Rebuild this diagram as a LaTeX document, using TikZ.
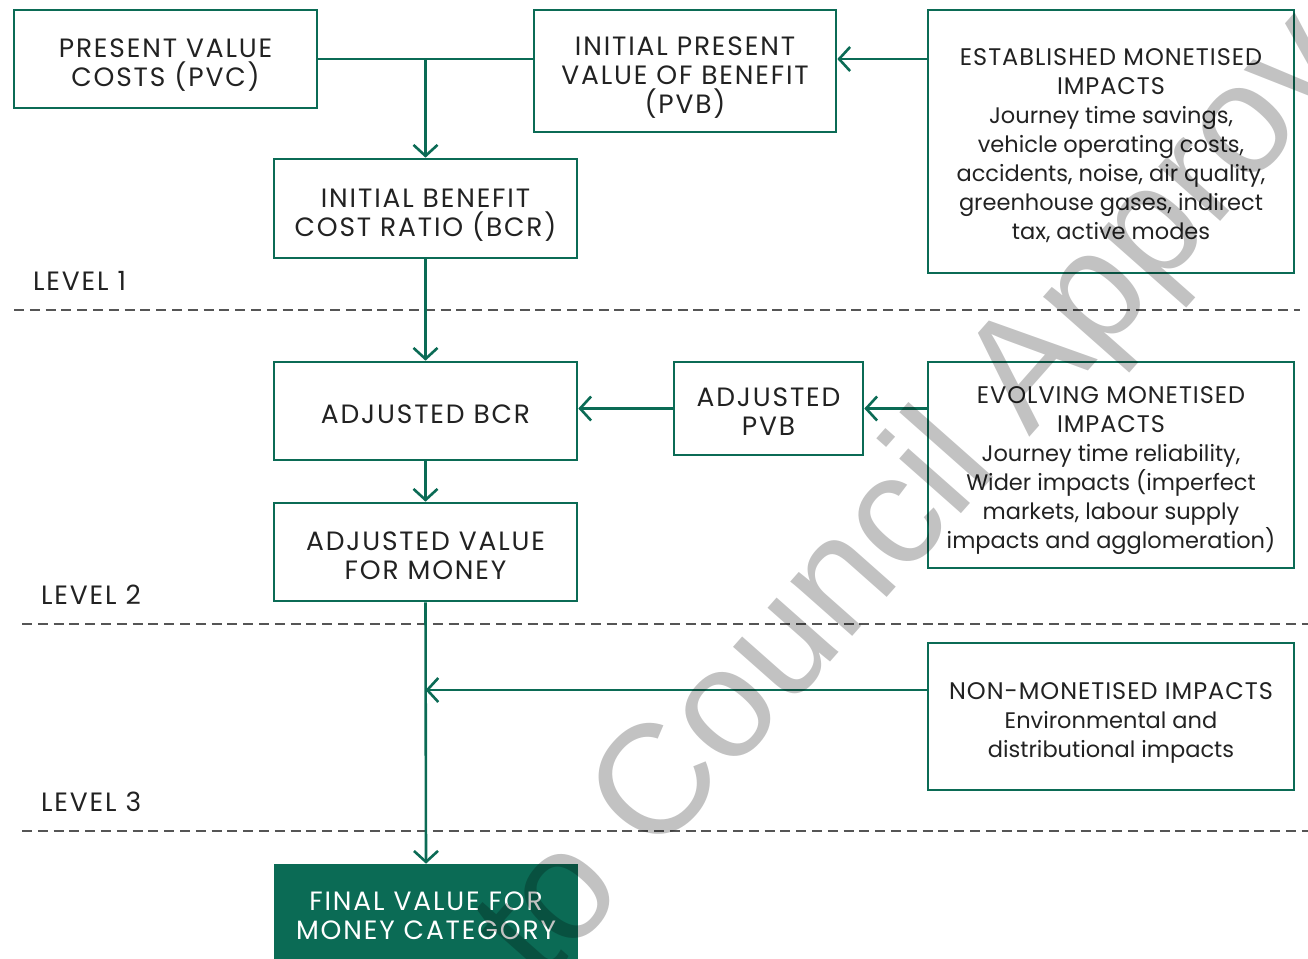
\documentclass[tikz,border=0pt]{standalone}
\usepackage{fontspec}
\setmainfont{Poppins}
\newfontfamily\titlefont{Poppins}[LetterSpace=7]
\newfontfamily\headfont{Poppins}[LetterSpace=4]
\newfontfamily\wmfont{Liberation Sans}
\newcommand\TitleF{\titlefont\fontsize{26.5}{29}\selectfont}
\newcommand\HeadF{\headfont\fontsize{24}{29}\selectfont}
\newcommand\BodyF{\normalfont\fontsize{22.5}{29}\selectfont}
\usetikzlibrary{arrows.meta}
\definecolor{G}{HTML}{0B6B55}
\definecolor{txt}{HTML}{222222}
\definecolor{dashgray}{HTML}{555555}
\begin{document}
\begin{tikzpicture}[x=1pt,y=-1pt,
  box/.style={draw=G, line width=2.6pt, inner sep=0pt},
  finalbox/.style={box, fill=G},
  boxtext/.style={align=center, text=txt, inner sep=0pt, font=\TitleF},
  infotext/.style={align=center, text=txt, inner sep=0pt, font=\BodyF},
  arr/.style={draw=G, line width=2.6pt, -{Straight Barb[length=11pt,width=24pt]}},
  link/.style={draw=G, line width=2.6pt},
  levelline/.style={draw=dashgray, line width=2.8pt, dash pattern=on 10pt off 5.8pt},
  levellabel/.style={anchor=base west, text=txt, inner sep=0pt, font=\TitleF},
  watermark/.style={rotate=48.5, anchor=base west, inner sep=0pt, text=black, opacity=0.24,
    font=\wmfont\fontsize{156}{156}\selectfont}]
\useasboundingbox (0,0) rectangle (1308,958);

% boxes
\node[box, minimum width=303, minimum height=98] (pvc) at (165.5,59) {};
\node[box, minimum width=302, minimum height=122] (ipvb) at (685,71) {};
\node[box, minimum width=366, minimum height=263] (est) at (1111,141.5) {};
\node[box, minimum width=303, minimum height=99] (ibcr) at (425.5,208.5) {};
\node[box, minimum width=303, minimum height=98] (abcr) at (425.5,411) {};
\node[box, minimum width=189, minimum height=93] (apvb) at (768.5,408.5) {};
\node[box, minimum width=366, minimum height=206] (evo) at (1111,465) {};
\node[box, minimum width=303, minimum height=98] (avfm) at (425.5,552) {};
\node[box, minimum width=366, minimum height=147] (nonm) at (1111,716.5) {};
\node[finalbox, minimum width=302, minimum height=98] (final) at (426,914) {};

% box texts
\node[boxtext] (pvc-t) at ([yshift=-6pt]pvc.center) {PRESENT VALUE\\COSTS (PVC)};
\node[boxtext] (ipvb-t) at ([yshift=-6.5pt]ipvb.center) {INITIAL PRESENT\\VALUE OF BENEFIT\\(PVB)};
\node[infotext] (est-t) at ([yshift=-4pt]est.center) {\HeadF ESTABLISHED MONETISED\\\HeadF IMPACTS\\Journey time savings,\\vehicle operating costs,\\accidents, noise, air quality,\\greenhouse gases, indirect\\tax, active modes};
\node[boxtext] (ibcr-t) at ([yshift=-6.5pt]ibcr.center) {INITIAL BENEFIT\\COST RATIO (BCR)};
\node[boxtext] (abcr-t) at ([yshift=-3pt]abcr.center) {ADJUSTED BCR};
\node[boxtext] (apvb-t) at ([yshift=-3pt]apvb.center) {ADJUSTED\\PVB};
\node[infotext] (evo-t) at ([yshift=-6pt]evo.center) {\HeadF EVOLVING MONETISED\\\HeadF IMPACTS\\Journey time reliability,\\Wider impacts (imperfect\\markets, labour supply\\impacts and agglomeration)};
\node[boxtext] (avfm-t) at ([yshift=-4pt]avfm.center) {ADJUSTED VALUE\\FOR MONEY};
\node[infotext] (nonm-t) at ([yshift=-6pt]nonm.center) {\HeadF NON-MONETISED IMPACTS\\Environmental and\\distributional impacts};
\node[boxtext, text=white] (final-t) at ([yshift=-2pt]final.center) {FINAL VALUE FOR\\MONEY CATEGORY};

% level separators
\coordinate (l1a) at (14,310);  \coordinate (l1b) at (1300,310);
\coordinate (l2a) at (22,624);  \coordinate (l2b) at (1308,624);
\coordinate (l3a) at (22,831);  \coordinate (l3b) at (1308,831);
\draw[levelline] (l1a) -- (l1b);
\draw[levelline] (l2a) -- (l2b);
\draw[levelline] (l3a) -- (l3b);
\node[levellabel] (lev1) at (33,290) {LEVEL 1};
\node[levellabel] (lev2) at (41,604) {LEVEL 2};
\node[levellabel] (lev3) at (41,811) {LEVEL 3};

% connectors
\draw[link] (pvc.east) -- (pvc.east -| ipvb.west);
\coordinate (j1) at (pvc.east -| ibcr.north);
\draw[arr] (j1) -- (ibcr.north);
\draw[arr] (est.west |- pvc.east) -- (ipvb.east |- pvc.east);
\draw[arr] (ibcr.south) -- (abcr.north);
\draw[arr] (apvb.west) -- (apvb.west -| abcr.east);
\draw[arr] (evo.west |- apvb.east) -- (apvb.east);
\draw[arr] (abcr.south) -- (avfm.north);
\draw[arr] (avfm.south) -- (final.north);
\coordinate (n1) at (nonm.west |- 0,690);
\coordinate (n2) at (avfm.south |- 0,690);
\draw[arr] (n1) -- (n2);

% watermark
\begin{scope}
\clip (0,0) rectangle (1308,958);
\node[watermark] (wm) at (541,989) {to Council Approval};
\end{scope}
\end{tikzpicture}
\end{document}
